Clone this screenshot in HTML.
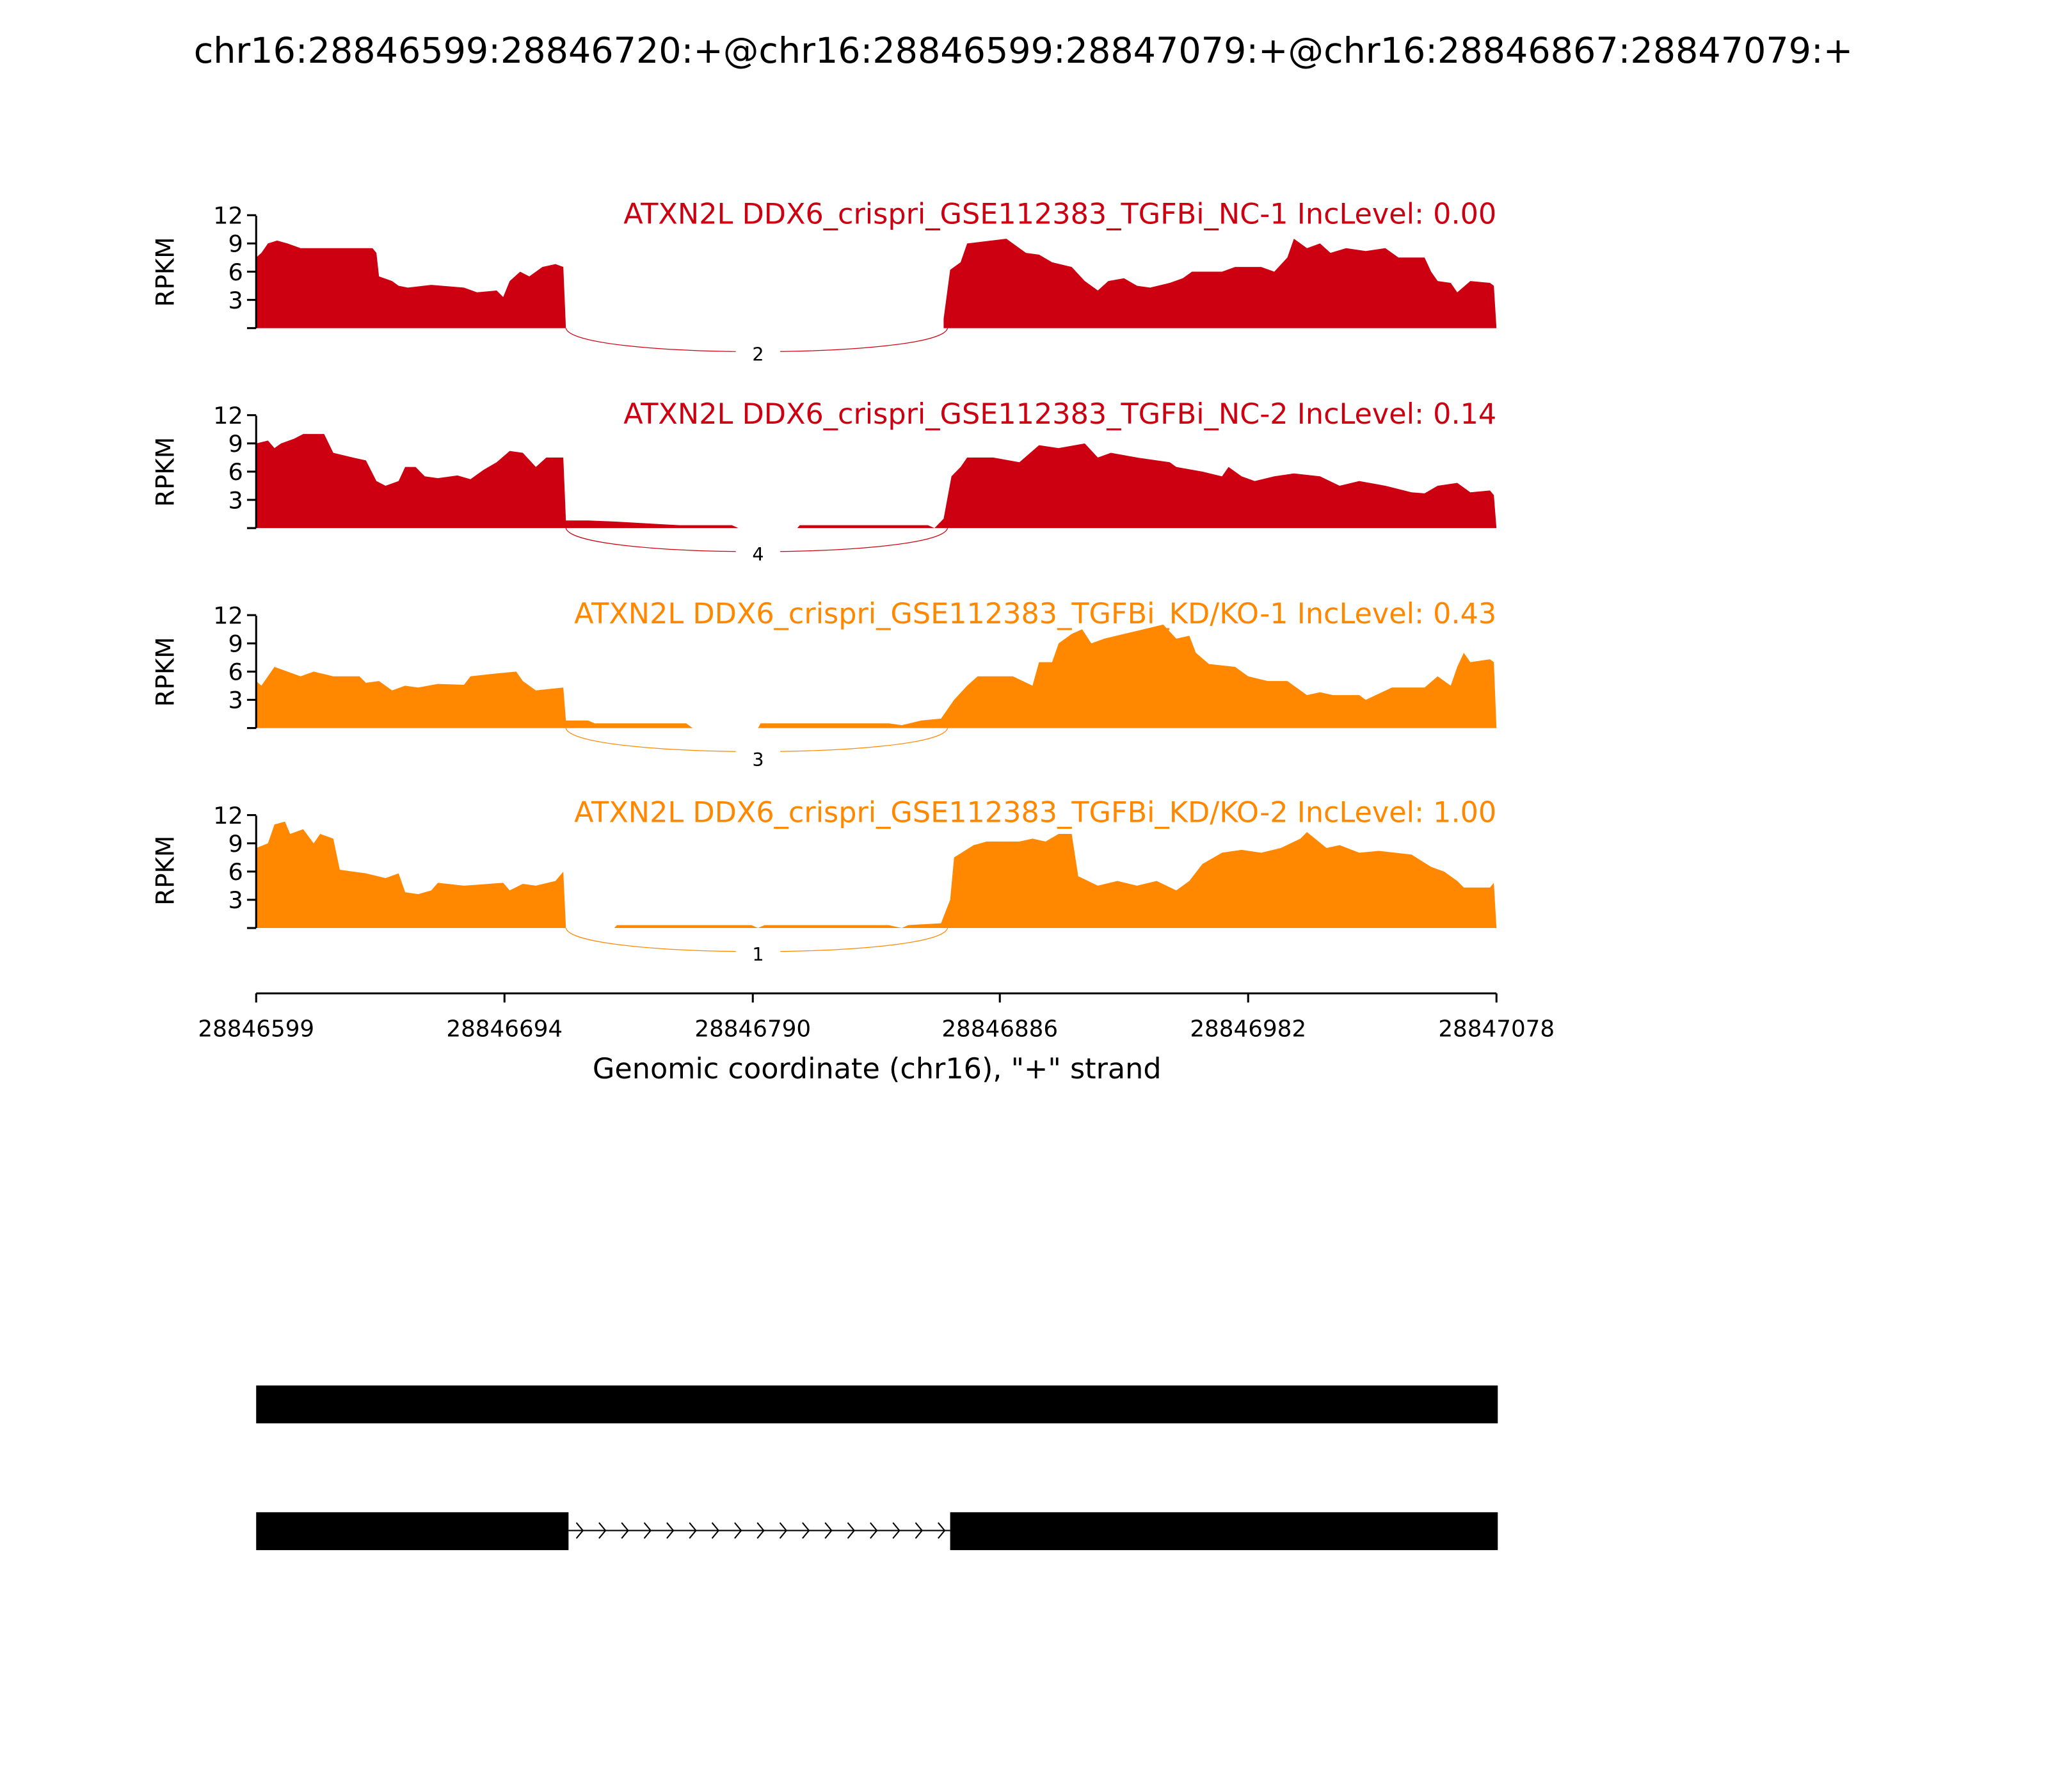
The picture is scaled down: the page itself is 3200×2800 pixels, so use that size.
<!DOCTYPE html>
<html><head><meta charset="utf-8"><style>
html,body{margin:0;padding:0;background:#fff}
svg{display:block}
text{font-family:"DejaVu Sans","Liberation Sans",sans-serif}
</style></head><body>
<svg id="s" width="3200" height="2800" viewBox="0 0 1567 1371" xmlns="http://www.w3.org/2000/svg">
<rect width="1567" height="1371" fill="#fff"/>
<text x="783" y="48" font-size="27.2" text-anchor="middle">chr16:28846599:28846720:+@chr16:28846599:28847079:+@chr16:28846867:28847079:+</text>
<g id="panels"></g>
<g font-size="21.8" text-anchor="end" fill="#cc0011">
<text x="1145" y="171">ATXN2L DDX6_crispri_GSE112383_TGFBi_NC-1 IncLevel: 0.00</text>
<text x="1145" y="324">ATXN2L DDX6_crispri_GSE112383_TGFBi_NC-2 IncLevel: 0.14</text>
<text x="1145" y="477" fill="#ff8800">ATXN2L DDX6_crispri_GSE112383_TGFBi_KD/KO-1 IncLevel: 0.43</text>
<text x="1145" y="629" fill="#ff8800">ATXN2L DDX6_crispri_GSE112383_TGFBi_KD/KO-2 IncLevel: 1.00</text>
</g>
<g font-size="19" transform="rotate(-90)" text-anchor="middle">
<text x="-208" y="133">RPKM</text>
<text x="-361" y="133">RPKM</text>
<text x="-514" y="133">RPKM</text>
<text x="-666" y="133">RPKM</text>
</g>
<g id="lab" font-size="14" text-anchor="middle"></g>
<line x1="196" y1="760" x2="1145" y2="760" stroke="#000" stroke-width="1.5"/>
<g stroke="#000" stroke-width="1.5">
<line x1="196" y1="760" x2="196" y2="767"/><line x1="386" y1="760" x2="386" y2="767"/>
<line x1="576" y1="760" x2="576" y2="767"/><line x1="765" y1="760" x2="765" y2="767"/>
<line x1="955" y1="760" x2="955" y2="767"/><line x1="1145" y1="760" x2="1145" y2="767"/>
</g>
<g font-size="17.5" text-anchor="middle">
<text x="196" y="793">28846599</text><text x="386" y="793">28846694</text>
<text x="576" y="793">28846790</text><text x="765" y="793">28846886</text>
<text x="955" y="793">28846982</text><text x="1145" y="793">28847078</text>
</g>
<text x="671" y="825" font-size="21.8" text-anchor="middle">Genomic coordinate (chr16), "+" strand</text>
<rect x="196" y="1060" width="950" height="29" fill="#000"/>
<rect x="196" y="1157" width="239" height="29" fill="#000"/>
<rect x="727" y="1157" width="419" height="29" fill="#000"/>
<line x1="435" y1="1171" x2="727" y2="1171" stroke="#000" stroke-width="1"/>
<g id="chev" fill="none" stroke="#000" stroke-width="1"></g>
</svg>
<script>
var P=[
{b:251,c:"#cc0011",n:"2",d:[196,7.5,200,8,205,9,212,9.3,220,9,230,8.5,236,8.5,285,8.5,288,8,290,5.5,300,5,305,4.5,312,4.3,330,4.6,355,4.3,365,3.8,380,4,385,3.3,390,5,398,6,405,5.5,415,6.5,425,6.8,431,6.5,433,0,722,0,722,1,727,6.2,735,7,740,9,770,9.5,785,8,795,7.8,805,7,820,6.5,830,5,840,4,848,5,860,5.3,870,4.5,880,4.3,895,4.8,905,5.3,912,6,935,6,945,6.5,965,6.5,975,6,985,7.5,990,9.5,1000,8.5,1010,9,1018,8,1030,8.5,1045,8.2,1060,8.5,1070,7.5,1090,7.5,1095,6,1100,5,1110,4.8,1115,3.8,1125,5,1140,4.8,1143,4.5,1145,0]},
{b:404,c:"#cc0011",n:"4",d:[196,9,205,9.3,210,8.5,215,9,225,9.5,232,10,248,10,255,8,270,7.5,280,7.2,288,5,295,4.5,305,5,310,6.5,318,6.5,325,5.5,335,5.3,350,5.6,360,5.2,370,6.2,380,7,390,8.2,400,8,410,6.5,418,7.5,431,7.5,433,0.8,450,0.8,470,0.7,520,0.3,560,0.3,565,0,610,0,612,0.3,710,0.3,715,0,722,1,728,5.5,735,6.5,740,7.5,760,7.5,780,7,795,8.8,810,8.5,830,9,840,7.5,850,8,870,7.5,895,7,900,6.5,920,6,935,5.5,940,6.5,950,5.5,960,5,975,5.5,990,5.8,1010,5.5,1025,4.5,1040,5,1060,4.5,1080,3.8,1090,3.7,1100,4.5,1115,4.8,1125,3.8,1140,4,1143,3.5,1145,0]},
{b:557,c:"#ff8800",n:"3",d:[196,5,200,4.5,210,6.5,220,6,230,5.5,240,6,255,5.5,275,5.5,280,4.8,290,5,300,4,310,4.5,320,4.3,335,4.7,355,4.6,360,5.5,380,5.8,395,6,400,5,410,4,431,4.3,433,0.8,450,0.8,455,0.5,525,0.5,530,0,580,0,582,0.5,680,0.5,690,0.3,705,0.8,720,1,730,3,740,4.5,748,5.5,775,5.5,790,4.5,795,7,805,7,810,9,820,10,828,10.5,835,9,845,9.5,860,10,875,10.5,890,11,900,9.5,910,9.8,915,8,925,6.8,945,6.5,955,5.5,970,5,985,5,995,4,1000,3.5,1010,3.8,1020,3.5,1040,3.5,1045,3,1065,4.3,1090,4.3,1100,5.5,1110,4.5,1115,6.5,1120,8,1125,7,1140,7.3,1143,7,1145,0]},
{b:710,c:"#ff8800",n:"1",d:[196,8.5,205,9,210,11,218,11.3,222,10,232,10.5,240,9,245,10,255,9.5,260,6.2,280,5.8,295,5.3,305,5.8,310,3.8,320,3.6,330,4,335,4.8,355,4.5,385,4.8,390,4,400,4.7,410,4.5,425,5,431,6,433,0,470,0,472,0.3,575,0.3,580,0,585,0.3,680,0.3,690,0,695,0.3,720,0.5,727,3,730,7.5,745,8.8,755,9.2,780,9.2,790,9.5,800,9.2,810,10,820,10,825,5.5,840,4.5,855,5,870,4.5,885,5,900,4,910,5,920,6.8,935,8,950,8.3,965,8,980,8.5,995,9.5,1000,10.2,1015,8.5,1025,8.8,1040,8,1055,8.2,1080,7.8,1095,6.5,1105,6,1115,5,1120,4.3,1140,4.3,1143,4.8,1145,0]}];
var g=document.getElementById("panels"),h="",L="";
P.forEach(function(p){
 var pts="196,"+p.b;
 for(var i=0;i<p.d.length;i+=2)pts+=" "+p.d[i]+","+(p.b-p.d[i+1]*7.2).toFixed(1);
 pts+=" 1145,"+p.b;
 h+='<polygon points="'+pts+'" fill="'+p.c+'"/>';
 h+='<path d="M433,'+p.b+' C438,'+(p.b+24)+' 720,'+(p.b+24)+' 725,'+p.b+'" fill="none" stroke="'+p.c+'" stroke-width="0.6"/>';
 var t=p.b-86;
 h+='<line x1="196" y1="'+t+'" x2="196" y2="'+p.b+'" stroke="#000" stroke-width="1.5"/>';
 [0,3,6,9,12].forEach(function(v){var y=p.b-v*7.2;
  h+='<line x1="189" y1="'+y+'" x2="196" y2="'+y+'" stroke="#000" stroke-width="1.5"/>';
  if(v)h+='<text x="186" y="'+(y+6.5)+'" font-size="18" text-anchor="end">'+v+'</text>';});
 var ly=p.b+(p.b==557?24:20);
 L+='<rect x="563" y="'+(ly-9)+'" width="34" height="18" fill="#fff"/><text x="580" y="'+(ly+5)+'">'+p.n+'</text>';
});
g.innerHTML=h;
document.getElementById("lab").innerHTML=L;
var c="";for(var x=441;x<727;x+=17.3)c+='<path d="M'+x+',1165 L'+(x+5)+',1171 L'+x+',1177"/>';
document.getElementById("chev").innerHTML=c;
</script>
</body></html>
